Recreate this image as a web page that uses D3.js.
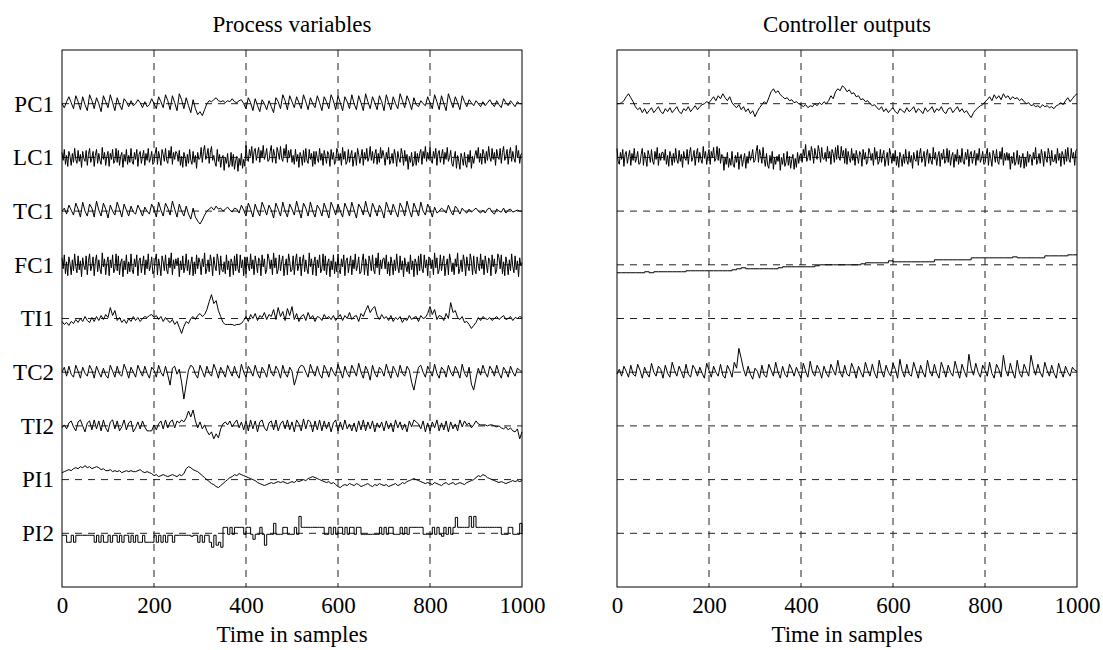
<!DOCTYPE html>
<html>
<head>
<meta charset="utf-8">
<script src="https://cdn.jsdelivr.net/npm/d3@7"></script>
<style>
  body { margin: 0; background: #fff; }
  text { font-family: "Liberation Serif", "Times New Roman", serif; fill: #000; }
</style>
</head>
<body>
<svg id="chart" width="1103" height="650"></svg>
<script>
// Row names, top to bottom, and time axis ticks
const rowNames = ["PC1", "LC1", "TC1", "FC1", "TI1", "TC2", "TI2", "PI1", "PI2"];
const xTicks = [0, 200, 400, 600, 800, 1000];
const nSamples = 1000;

// Deviations from each row's baseline (1 unit = 1/54 of the row spacing).
// Oscillating loops: every 5 samples. Noisy loops: every 2.5 samples.
const pv_PC1 = [
  0,-4,2, 7,1,-5, 8,2,-6, 7,-1,-7, 9,3,-5, 6,0,-8, 8,2,-4, 9,1,-7, 6,-1,-6, 5,2,-3,
  3,-2,0, 4,1,-4, 2,-3,-1, 5,0,-5, 7,2,-4, 9,3,-6, 8,1,-7, 10,4,-5, 6,-2,-9, 4,-5,-11,
  -8,-12,-6, 0,3,2, 4,6,3, 2,3,1, 3,2,5, 2,1,3, 4,0,-5, 6,1,-7, 5,-2,-8, 4,0,-6,
  3,-3,-9, 6,2,-5, 9,3,-6, 8,2,-4, 7,1,-5, 9,2,-6, 6,0,-4, 8,1,-7, 7,2,-5, 9,3,-6,
  8,1,-7, 7,2,-5, 9,0,-6, 8,1,-7, 10,2,-5, 7,1,-6, 8,2,-7, 9,1,-6, 7,0,-5, 10,3,-4,
  8,2,-6, 6,-1,-3, 3,0,-2, 7,1,-5, 9,2,-6, 8,0,-7, 10,3,-4, 7,1,-6, 8,2,-3, 4,1,-2,
  3,0,-3, 2,-2,1, 4,0,-3, 3,-1,-4, 5,1,-2, 3,0,-3, 2,0,0
];
const pv_LC1 = [
  5,-3,8,-7,2,-9,6,1,-8,4,-5,9,-2,-6,7,-4,3,-10,6,-1,
  -4,7,-8,3,9,-5,-1,6,-9,2,8,-6,4,-3,-7,10,-2,5,-8,1,
  6,-9,4,-2,8,-6,-3,9,-5,7,-8,1,5,-10,3,-4,8,-7,2,-5,
  9,-4,-7,5,-2,8,-9,3,6,-6,1,7,-8,4,-3,9,-5,-1,6,-7,
  -5,4,10,-7,6,0,-8,8,3,-4,9,-3,-6,7,-1,11,-7,5,-2,6,
  4,-4,7,-8,1,-10,5,0,-9,3,-6,8,-3,-7,6,-5,2,-11,5,-2,
  -1,10,-5,6,12,-2,2,9,-6,5,11,-3,2,-5,-9,8,-4,3,-10,-1,
  2,-13,0,-6,4,-10,-7,5,-9,3,-12,-3,1,-14,-1,-8,4,-11,-2,-9,
  12,-1,-4,8,1,11,-6,6,9,-3,4,10,-5,7,0,12,-2,2,9,-4,
  -3,6,12,-5,8,2,-6,10,5,-2,11,-1,-4,9,1,13,-5,7,0,8,
  -5,2,-7,8,-4,3,-10,5,1,-8,7,-5,9,-3,-6,8,-2,4,-9,6,
  -7,6,-1,-5,9,-3,4,-8,7,1,-6,6,3,-9,8,-2,5,-7,-4,9,
  5,-3,4,-8,10,-2,6,-7,-4,8,-5,2,7,-9,-1,5,-8,9,3,-6,
  1,8,-8,5,-2,9,-4,0,11,-3,6,-6,3,8,-7,4,-5,10,-1,7,
  1,-8,5,-2,10,-7,-3,4,-6,8,2,-9,6,-1,-5,9,3,-8,7,-4,
  3,-12,1,-5,5,-9,-6,6,-8,4,-5,4,8,-7,6,-1,11,-4,5,-2,
  10,-3,-6,6,-1,9,-8,4,7,-5,2,8,-7,5,-2,10,-4,0,7,-6,
  -9,0,6,-11,2,-4,-12,4,-1,-8,5,-7,-10,3,-5,7,-11,1,-6,2,
  7,-1,10,-5,4,-7,8,3,-6,6,-3,11,0,-4,9,-2,5,-8,8,1,
  -2,9,-6,5,11,-3,1,8,-7,4,10,-4,6,-1,-5,12,0,7,-6,3,
  4
];
const pv_TC1 = [
  0,3,-3, 6,1,-4, 8,2,-6, 9,0,-5, 7,3,-6, 10,1,-5, 8,2,-7, 6,0,-4, 9,2,-6, 7,1,-5,
  5,-1,-3, 6,1,-5, 4,0,-3, 7,2,-6, 9,1,-5, 8,3,-4, 10,2,-6, 7,0,-5, 5,-3,-8, 3,-6,-10,
  -13,-9,-4, 0,2,4, 1,5,2, 3,0,2, 4,1,-1, 3,2,-2, 6,1,-5, 8,2,-6, 7,0,-5, 9,3,-4,
  6,1,-7, 8,2,-5, 9,0,-6, 7,2,-4, 10,1,-7, 8,3,-5, 9,0,-6, 6,2,-5, 8,1,-7, 9,3,-4,
  7,0,-6, 8,2,-5, 9,1,-7, 7,3,-4, 10,0,-6, 8,2,-5, 6,1,-7, 9,2,-4, 7,0,-6, 8,3,-5,
  10,1,-6, 8,2,-5, 9,0,-4, 7,2,-6, 4,-2,0, 3,1,-2, 6,0,-4, 5,2,-3, 3,0,-2, 2,-1,1,
  3,0,-2, 1,-2,2, 3,-1,-3, 2,0,-1, 3,-2,1, 2,-1,0, 1,0,0
];
const pv_FC1 = [
  7,-4,10,-9,3,-11,8,1,-10,5,-6,11,-2,-8,9,-5,4,-12,7,-1,
  -5,9,-10,4,11,-6,-1,8,-11,3,10,-7,5,-4,-9,12,-2,6,-10,2,
  8,-11,5,-3,10,-8,-4,11,-6,9,-10,2,6,-12,4,-5,10,-9,3,-7,
  11,-5,-9,6,-2,10,-11,4,7,-8,1,9,-10,5,-4,11,-6,-1,8,-9,
  -7,4,11,-10,6,-1,-11,9,3,-6,10,-5,-9,7,-3,12,-10,5,-4,6,
  -1,7,-12,4,-5,9,-8,-2,11,-6,5,-10,1,8,-11,3,-9,10,-4,7,
  2,-10,6,-2,12,-9,-4,5,-7,10,3,-11,8,-1,-6,11,4,-10,9,-5,
  -7,3,-9,10,-5,4,-12,6,2,-10,9,-6,11,-4,-8,10,-3,5,-11,8,
  -9,8,-1,-6,11,-4,5,-10,9,1,-8,7,4,-11,10,-2,6,-9,-5,11,
  6,-4,5,-10,12,-3,7,-9,-5,10,-6,3,9,-11,-1,6,-10,11,4,-7,
  -5,9,-10,4,11,-6,-1,8,-11,3,10,-7,5,-4,-9,12,-2,6,-10,2,
  8,-11,5,-3,10,-8,-4,11,-6,9,-10,2,6,-12,4,-5,10,-9,3,-7,
  11,-5,-9,6,-2,10,-11,4,7,-8,1,9,-10,5,-4,11,-6,-1,8,-9,
  -7,4,11,-10,6,-1,-11,9,3,-6,10,-5,-9,7,-3,12,-10,5,-4,6,
  7,-4,10,-9,3,-11,8,1,-10,5,-6,11,-2,-8,9,-5,4,-12,7,-1,
  -7,3,-9,10,-5,4,-12,6,2,-10,9,-6,11,-4,-8,10,-3,5,-11,8,
  6,-4,5,-10,12,-3,7,-9,-5,10,-6,3,9,-11,-1,6,-10,11,4,-7,
  2,-10,6,-2,12,-9,-4,5,-7,10,3,-11,8,-1,-6,11,4,-10,9,-5,
  -9,8,-1,-6,11,-4,5,-10,9,1,-8,7,4,-11,10,-2,6,-9,-5,11,
  7,-4,10,-9,3,-11,8,1,-10,5,-6,11,-2,-8,9,-5,4,-12,7,-1,
  2
];
const pv_TI1 = [
  -3,-6,-4, -7,-3,-5, -1,-4,0, -3,2,-2, -4,1,-3, 2,-2,3, -1,4,1, 11,3,8, -2,1,-4, -1,-5,0,
  -3,2,-2, 1,-3,0, 2,1,3, 4,1,3, -1,2,-3, 1,-2,-4, -1,-6,-3, -9,-15,-8, -3,-5,0, 2,-1,3,
  5,2,4, 9,17,24, 15,18,8, 2,-4,-6, -6,-6,-6, -7,-6,-6, -5,-2,2, -3,4,0, 5,-2,3, 1,6,-1,
  4,2,9, -1,11,2, 7,-2,10, 3,12,-1, 5,-3,2, 4,-2,6, 0,3,-3, 2,1,-2, 4,0,2, -1,3,-2,
  1,4,-2, 3,0,6, -1,2,3, -3,5,2, 8,13,6, 10,12,3, -1,4,0, 2,-2,3, -3,1,-1, 2,-4,0,
  -2,3,-1, 1,2,-3, 3,0,1, 5,12,4, 9,-1,3, 2,-2,5, 0,16,6, 8,1,-1, 2,-4,-3, -6,-10,-7,
  -4,1,-2, 2,0,-1, 1,-2,0, 2,-1,1, 3,-1,0, 2,-2,1, 0,2,1
];
const pv_TC2 = [
  0,5,-4, 6,-2,-5, 7,1,-6, 5,-1,-4, 7,2,-6, 6,0,-5, 4,-3,-6, 7,1,-5, 6,-2,-4, 8,2,-6,
  5,0,-5, 7,1,-4, 6,-1,-6, 5,2,-5, 7,0,-4, 6,-3,-13, 4,6,-2, 3,-10,-27, -12,2,7, 5,-2,-6,
  7,1,-5, 6,-1,-4, 8,2,-6, 5,0,-5, 7,1,-4, 6,-2,-6, 8,0,-5, 6,2,-4, 7,-1,-6, 5,1,-5,
  8,0,-4, 6,2,-6, 7,-1,-5, 5,1,-13, -5,4,7, 6,0,-5, 8,1,-4, 6,-2,-6, 7,2,-5, 5,0,-4,
  8,1,-6, 6,-1,-5, 7,2,-4, 9,0,-6, 6,1,-8, 7,-1,-5, 5,2,-4, 8,0,-6, 6,1,-5, 7,-1,-4,
  6,2,-10, -18,-6,5, 7,0,-5, 6,1,-4, 8,-1,-6, 5,2,-5, 7,0,-4, 6,1,-6, 8,-1,-5, 5,-12,-18,
  -6,4,-3, 7,0,-5, 6,2,-4, 7,-1,-6, 5,1,-5, 6,0,-4, 4,2,0
];
const pv_TI2 = [
  -2,1,-3, 3,5,-1, -5,4,6, 0,-6,3, 5,-4,6, -3,5,-5, 6,-2,-6, 4,6,-3, 5,-5,-1, 6,-4,3,
  5,-6,-2, 4,-3,5, -1,-5,-5, -5,1,-4, 2,5,-3, 6,-2,4, 6,-2,5, 3,6,4, 8,15,9, 16,5,-2,
  4,-3,1, -5,-9,-6, -13,-8,-12, -3,2,4, 1,5,-1, 3,6,-2, 4,-4,5, -5,6,-3, 5,-6,4, 6,-2,-5,
  3,5,-4, 6,-5,2, 5,-3,6, -4,4,-6, 6,2,-5, 7,-3,6, 4,-6,5, -4,6,-5, 5,-3,4, -6,3,6,
  -5,4,-4, 6,-3,2, -5,3,-6, 5,-4,6, -5,4,-3, 5,-6,3, -2,4,-5, 5,-3,3, -6,6,-2, 4,-4,2,
  -6,5,-1, 6,4,2, -3,5,-6, 3,-5,4, -2,6,-5, 3,-4,5, -6,4,-3, 2,-5,6, -1,5,1, 3,-2,1,
  5,2,1, 1,1,0, 1,1,0, -1,0,-2, -3,-1,-4, -2,-5,-6, -3,-13,-6
];
const pv_PI1 = [
  7,8,9,10,9,11,12,11,13,12,14,12,13,11,12,13,12,10,11,9,
  9,10,8,9,8,9,7,8,9,8,9,8,8,9,10,8,7,8,7,6,
  4,5,3,4,5,4,3,4,5,4,3,5,4,6,11,13,12,10,9,8,
  6,4,2,0,-2,-4,-5,-7,-8,-6,-4,-2,0,2,3,5,4,6,5,4,
  3,2,1,0,-1,-3,-4,-5,-6,-5,-4,-3,-4,-3,-2,-3,-2,-3,-4,-3,
  -2,-3,-1,-2,-1,0,-1,1,2,3,2,1,0,-1,-2,-3,-2,-4,-3,-5,
  -7,-8,-6,-5,-6,-4,-5,-6,-4,-5,-7,-6,-5,-4,-6,-7,-5,-6,-4,-5,
  -6,-5,-7,-6,-5,-4,-6,-5,-3,-4,-2,-1,0,1,0,-1,-2,-3,-4,-3,
  -4,-5,-3,-4,-5,-6,-4,-3,-5,-4,-3,-5,-4,-3,-4,-5,-3,-2,-1,0,
  2,4,3,5,4,2,1,0,-1,-2,-3,-2,-3,-4,-3,-2,-1,-2,-1,-2,-1
];
// quantised signal, held between samples
const pv_PI2 = [
  -2,-2,-9,-9,-2,-9,-2,-2,-2,-2,-2,-2,-2,-2,-9,-2,-9,-2,-9,-9,
  -2,-9,-2,-2,-9,-2,-9,-2,-2,-9,-2,-9,-2,-9,-9,-2,-9,-9,-9,-9,
  -2,-9,-2,-9,-2,-9,-2,-2,-9,-2,-2,-2,-2,-2,-2,-2,-3,-2,-2,-9,
  -2,-9,-2,-2,-9,-14,-2,-12,-9,-14,6,6,-1,6,-1,6,6,6,6,-1,
  6,6,-1,-6,-1,-1,6,-1,-12,-1,-1,-1,10,-1,-1,-1,6,6,-1,-1,
  -1,6,-1,17,6,6,6,6,6,6,6,6,6,6,-1,-1,6,-1,6,-1,
  6,6,-1,6,-1,6,6,-1,6,6,-1,-1,-1,-1,-1,-1,-1,-1,6,-1,
  6,-1,6,6,-1,-1,-1,6,-1,6,-1,6,6,6,6,6,6,-1,-1,-1,
  -1,6,-1,6,-1,-3,6,-1,6,-1,6,16,6,6,6,6,6,17,6,17,
  6,6,6,6,6,6,6,6,6,6,6,-1,-1,-1,6,6,-1,-1,-1,10,-1
];

const co_PC1 = [
  0,0,1, 3,7,10, 6,2,-3, -6,-4,-9, -5,-10,-7, -4,-9,-6, -3,-8,-10, -5,-8,-4, -9,-6,-3, -8,-10,-5,
  -7,-3,-8, -5,-2,-6, -3,-1,0, 2,1,4, 7,3,8, 5,10,6, 3,7,1, -2,-4,-1, -6,-3,-8, -5,-10,-7,
  -13,-8,-4, -1,2,0, 6,12,15, 11,13,9, 7,5,6, 3,4,1, 2,0,-1, -3,-1,-4, -2,-3,0, -2,1,-1,
  2,0,3, 8,5,12, 15,13,18, 16,12,14, 10,11,7, 8,4,5, 2,3,0, -2,-1,-4, -6,-3,-8, -5,-9,-6,
  -4,-8,-10, -5,-7,-9, -4,-8,-6, -3,-9,-5, -7,-10,-4, -8,-6,-3, -9,-5,-7, -3,-8,-10, -5,-4,-9, -6,-3,-8,
  -5,-9,-7, -11,-14,-9, -6,-4,-2, -1,2,4, 7,3,9, 5,8,4, 10,6,8, 4,7,5, 6,3,5, 2,0,1,
  -2,-1,-3, -2,-4,-1, -3,-2,-4, -3,-5,-2, -1,1,-1, 3,6,2, 5,8,10
];
const co_LC1 = [
  9,-4,-7,5,-2,8,-9,3,6,-6,1,7,-8,4,-3,9,-5,-1,6,-7,
  -6,3,9,-8,5,-1,-9,7,2,-5,8,-4,-7,6,-2,10,-8,4,-3,5,
  5,-3,8,-7,2,-9,6,1,-8,4,-5,9,-2,-6,7,-4,3,-10,6,-1,
  -3,8,-7,4,10,-4,0,7,-8,3,9,-5,5,-2,-6,11,-1,6,-7,2,
  8,-7,6,0,10,-4,-1,11,-3,9,-6,3,2,-13,0,-7,5,-10,-1,-8,
  6,-7,-10,2,-5,5,-12,0,3,-9,-2,4,-11,1,-6,6,-3,1,8,-5,
  -3,6,12,-5,8,2,-6,10,-2,-9,4,-8,-11,2,-6,6,-12,0,-7,1,
  -4,3,-13,0,-7,4,-9,-5,6,-8,1,-11,-2,3,-12,-1,-10,5,-6,2,
  4,-5,8,1,13,-4,0,7,-3,11,5,-6,9,2,-2,12,6,-5,10,-1,
  -2,5,-4,11,-1,6,-7,8,4,-5,10,-2,12,0,-3,11,1,7,-6,9,
  -7,6,-1,-5,9,-3,4,-8,7,1,-6,6,3,-9,8,-2,5,-7,-4,9,
  5,-3,4,-8,10,-2,6,-7,-4,8,-5,2,7,-9,-1,5,-8,9,3,-6,
  4,-4,7,-8,1,-10,5,0,-9,3,-6,8,-3,-7,6,-5,2,-11,5,-2,
  -4,7,-8,3,9,-5,-1,6,-9,2,8,-6,4,-3,-7,10,-2,5,-8,1,
  6,-9,4,-2,8,-6,-3,9,-5,7,-8,1,5,-10,3,-4,8,-7,2,-5,
  9,-4,-7,5,-2,8,-9,3,6,-6,1,7,-8,4,-3,9,-5,-1,6,-7,
  -6,3,9,-8,5,-1,-9,7,2,-5,8,-4,-7,6,-2,10,-8,4,-3,5,
  -3,4,-12,1,-6,5,-8,-4,7,-7,2,-10,-1,4,-11,0,-9,6,-5,3,
  1,-8,5,-2,10,-7,-3,4,-6,8,2,-9,6,-1,-5,9,3,-8,7,-4,
  -4,3,-6,9,-3,4,-9,6,2,-7,8,-4,10,-2,-5,9,-1,5,-8,7,
  8
];
// slow ramp, every 10 samples, held between samples
const co_FC1 = [
  -8,-8,-8,-8,-8,-8,-7,-8,-7,-7,
  -7,-7,-7,-7,-7,-6,-6,-6,-6,-6,
  -6,-6,-6,-6,-6,-5,-4,-3,-4,-4,
  -4,-4,-4,-4,-4,-3,-2,-2,-2,-2,
  -2,-2,-2,-1,0,0,0,0,0,0,
  0,0,0,1,2,2,2,2,2,4,
  3,3,3,3,3,3,3,3,3,5,
  5,5,5,5,5,5,5,7,7,7,
  7,7,7,7,7,7,8,7,7,7,
  7,7,7,9,9,9,9,9,10,10,10
];
const co_TC2 = [
  -2,3,-4, 6,1,-5, 7,-2,-4, 8,2,-6, 5,-1,-5, 9,0,-4, 6,3,-6, 7,-1,-5, 10,2,-4, 6,0,-6,
  8,-2,-5, 7,3,-4, 5,-1,-6, 9,2,-5, 6,0,-4, 8,-3,-6, 7,2,-5, 10,4,24, 14,3,-4, 6,-2,-7,
  4,1,-6, 7,-3,-5, 8,2,-4, 10,0,-6, 6,-2,-5, 8,3,-4, 5,-1,-6, 9,1,-5, 11,0,-4, 7,2,-6,
  6,-1,-5, 8,2,-3, 12,0,-5, 7,-2,-4, 9,3,-6, 6,0,-5, 10,2,-4, 8,-1,-6, 12,1,-5, 7,0,-4,
  9,3,-6, 13,1,-5, 8,-2,-4, 10,2,-6, 7,0,-5, 12,1,-4, 8,-1,-6, 10,3,-5, 7,0,-4, 11,2,-6,
  8,1,-5, 18,4,-3, 9,0,-5, 7,2,-4, 10,-1,-6, 8,3,-5, 17,2,-4, 9,0,-6, 12,-1,-5, 8,2,-4,
  17,5,-3, 8,0,-5, 10,2,-4, 7,-1,-6, 9,1,-5, 6,0,-4, 5,2,1
];

const unitsPerRow = 54;
const processVars = [
  { data: pv_PC1 }, { data: pv_LC1 }, { data: pv_TC1 }, { data: pv_FC1 }, { data: pv_TI1 },
  { data: pv_TC2 }, { data: pv_TI2 }, { data: pv_PI1 }, { data: pv_PI2, step: true }
];
const controllerOutputs = [
  { data: co_PC1 }, { data: co_LC1 }, null, { data: co_FC1, step: true }, null,
  { data: co_TC2 }, null, null, null
];

const svg = d3.select("#chart");
svg.append("rect").attr("width", 1103).attr("height", 650).attr("fill", "#fff");

const plotW = 460, plotH = 537, fontSize = 23;

function drawPanel(left, top, title, series, showNames) {
    const g = svg.append("g").attr("transform", `translate(${left},${top})`);

    const x = d3.scaleLinear().domain([0, nSamples]).range([0, plotW]);
    const y = d3.scaleLinear().domain([0, rowNames.length + 1]).range([plotH, 0]);
    const rowLevel = i => rowNames.length - i;

    // grid: vertical at the inner ticks, horizontal at every row baseline
    g.selectAll(".vgrid")
        .data(xTicks.slice(1, -1))
        .enter().append("line")
        .attr("x1", d => x(d)).attr("x2", d => x(d))
        .attr("y1", 0).attr("y2", plotH)
        .style("stroke", "#222").style("stroke-dasharray", "7,6");

    g.selectAll(".hgrid")
        .data(rowNames)
        .enter().append("line")
        .attr("x1", 0).attr("x2", plotW)
        .attr("y1", (d, i) => y(rowLevel(i))).attr("y2", (d, i) => y(rowLevel(i)))
        .style("stroke", "#222").style("stroke-dasharray", "7,6");

    // traces
    series.forEach((s, i) => {
        if (!s) return;
        const n = s.data.length;
        const line = d3.line()
            .x((d, j) => x(j * nSamples / (n - 1)))
            .y(d => y(rowLevel(i) + d / unitsPerRow))
            .curve(s.step ? d3.curveStepAfter : d3.curveLinear);
        g.append("path")
            .datum(s.data)
            .attr("d", line)
            .style("fill", "none")
            .style("stroke", "#000")
            .style("stroke-width", 1);
    });

    // frame
    g.append("rect")
        .attr("width", plotW).attr("height", plotH)
        .style("fill", "none").style("stroke", "#000").style("stroke-width", 1);

    // x axis labels
    const xAxis = g.append("g")
        .attr("transform", `translate(0,${plotH})`)
        .call(d3.axisBottom(x).tickValues(xTicks).tickSize(0).tickPadding(10).tickFormat(d3.format("d")));
    xAxis.select(".domain").remove();
    xAxis.selectAll("text").style("font-size", fontSize + "px")
        .style("font-family", "Liberation Serif");

    if (showNames) {
        const yAxis = g.append("g")
            .call(d3.axisLeft(y).tickValues(rowNames.map((d, i) => rowLevel(i)))
                .tickSize(0).tickPadding(8)
                .tickFormat(v => rowNames[rowNames.length - v]));
        yAxis.select(".domain").remove();
        yAxis.selectAll("text").style("font-size", fontSize + "px")
            .style("font-family", "Liberation Serif");
    }

    g.append("text")
        .attr("x", plotW / 2).attr("y", -18)
        .attr("text-anchor", "middle")
        .style("font-size", fontSize + "px")
        .text(title);

    g.append("text")
        .attr("x", plotW / 2).attr("y", plotH + 55)
        .attr("text-anchor", "middle")
        .style("font-size", fontSize + "px")
        .text("Time in samples");
}

drawPanel(62, 50, "Process variables", processVars, true);
drawPanel(617, 50, "Controller outputs", controllerOutputs, false);
</script>
</body>
</html>
